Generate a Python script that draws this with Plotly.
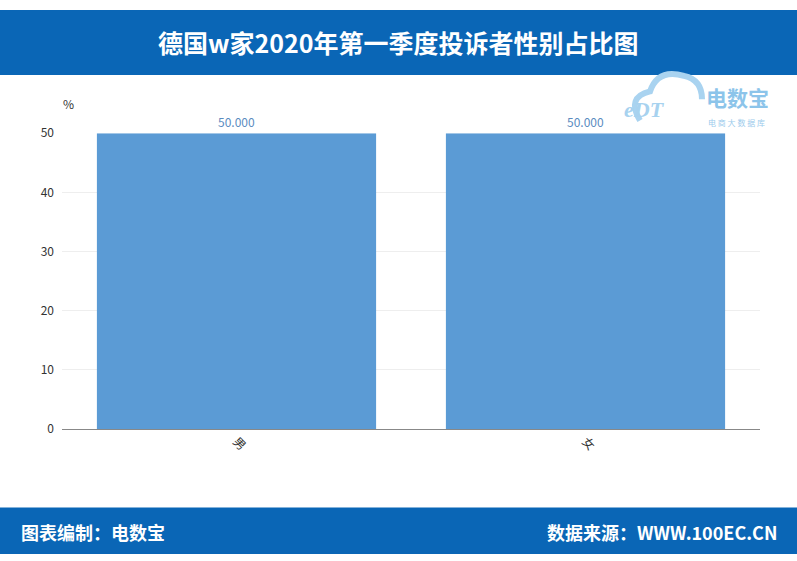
import plotly.graph_objects as go

categories = ["男", "女"]
values = [50.0, 50.0]
value_labels = ["50.000", "50.000"]
yticks = [0, 10, 20, 30, 40, 50]

title_text = "德国w家2020年第一季度投诉者性别占比图"
footer_left = "图表编制：电数宝"
footer_right = "数据来源：WWW.100EC.CN"

W, H = 797, 561
blue = "#0a66b6"


def py(px):
    return (H - px) / H


def px_(x):
    return x / W


fig = go.Figure()
fig.add_trace(go.Bar(
    x=categories, y=values,
    marker=dict(color="#5b9bd5", line=dict(width=0)),
    text=value_labels, textposition="outside",
    textfont=dict(color="#5b8cbf", size=12, family="Noto Sans CJK SC"),
    cliponaxis=False, width=0.8,
))

fig.update_layout(
    width=W, height=H,
    margin=dict(l=0, r=0, t=0, b=0),
    paper_bgcolor="white", plot_bgcolor="white",
    showlegend=False,
    font=dict(family="Noto Sans CJK SC", color="#333333"),
    xaxis=dict(
        domain=[px_(62), px_(760)],
        showline=True, linecolor="#888888", linewidth=1,
        tickangle=45, tickfont=dict(size=12, color="#333333"),
        ticks="", showgrid=False,
    ),
    yaxis=dict(
        domain=[py(432), py(127)],
        range=[0, 50], tickvals=yticks,
        showgrid=True, gridcolor="#eeeeee", gridwidth=1,
        zeroline=False, showline=False, ticks="",
        ticklabelstandoff=7,
        tickfont=dict(size=12, color="#333333"),
    ),
    shapes=[
        dict(type="rect", xref="paper", yref="paper", x0=0, x1=1,
             y0=py(67), y1=1, fillcolor=blue, line=dict(width=0), layer="below"),
        dict(type="rect", xref="paper", yref="paper", x0=0, x1=1,
             y0=0, y1=py(513), fillcolor=blue, line=dict(width=0), layer="below"),
        # cloud outline of the watermark logo
        dict(type="path", xref="paper", yref="paper",
             path=("M {a},{b} Q {c},{d} {e},{f} Q {g},{h} {i},{j} Q {k},{l} {m},{n}").format(
                 a=px_(640), b=py(114), c=px_(626), d=py(90), e=px_(650), f=py(84),
                 g=px_(658), h=py(60), i=px_(684), j=py(68), k=px_(702), l=py(72), m=px_(702), n=py(92)),
             line=dict(color="#a9d3f0", width=6), layer="below"),
    ],
    annotations=[
        dict(text="<b>" + title_text + "</b>", xref="paper", yref="paper",
             x=0.5, y=py(33), yanchor="middle", showarrow=False,
             font=dict(size=25, color="white", family="Noto Sans CJK SC")),
        dict(text="<b>" + footer_left + "</b>", xref="paper", yref="paper",
             x=px_(19), y=py(538), xanchor="left", yanchor="middle", showarrow=False,
             font=dict(size=18, color="white", family="Noto Sans CJK SC")),
        dict(text="<b>" + footer_right + "</b>", xref="paper", yref="paper",
             x=px_(779), y=py(538), xanchor="right", yanchor="middle", showarrow=False,
             font=dict(size=18, color="white", family="Noto Sans CJK SC")),
        dict(text="%", xref="paper", yref="paper",
             x=px_(61), y=py(96), yanchor="middle", showarrow=False,
             font=dict(size=12, color="#333333")),
        dict(text="<b>电数宝</b>", xref="paper", yref="paper",
             x=px_(704), y=py(90), xanchor="left", yanchor="middle", showarrow=False,
             font=dict(size=21, color="#8cc4ea", family="Noto Sans CJK SC")),
        dict(text="电 商 大 数 据 库", xref="paper", yref="paper",
             x=px_(706), y=py(116), xanchor="left", yanchor="middle", showarrow=False,
             font=dict(size=8, color="#9ccbec", family="Noto Sans CJK SC")),
        dict(text="<i><b>eDT</b></i>", xref="paper", yref="paper",
             x=px_(667), y=py(103), yanchor="middle", showarrow=False,
             font=dict(size=22, color="#a7d2ef", family="Liberation Serif")),
    ],
)

post = ("document.documentElement.style.margin='0';document.body.style.margin='0';"
        "document.body.style.overflow='hidden';"
        "var d=document.getElementById('{plot_id}');"
        "d.style.position='fixed';d.style.top='0';d.style.left='0';")

fig.write_html("out.html", config={"displayModeBar": False}, post_script=post)
